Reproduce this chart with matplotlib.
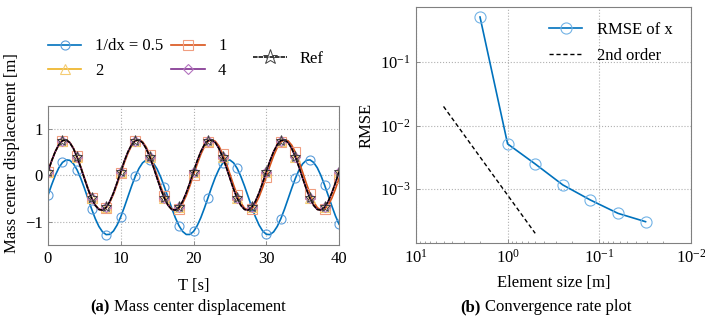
import numpy as np
import matplotlib
matplotlib.use("Agg")
import matplotlib.pyplot as plt

plt.rcParams["font.family"] = ["Liberation Serif", "DejaVu Serif"]
plt.rcParams["mathtext.fontset"] = "stix"
plt.rcParams["font.size"] = 11

# ---- data: mass center displacement (sampled every 0.5 s) ----
t = [0.5 * i for i in range(81)]

disp_05 = [-0.430, -0.205, -0.001, 0.166, 0.281, 0.336, 0.326, 0.253, 0.121, -0.058,
           -0.270, -0.498, -0.724, -0.930, -1.099, -1.217, -1.275, -1.269, -1.198, -1.069,
           -0.892, -0.681, -0.453, -0.226, -0.019, 0.150, 0.272, 0.333, 0.330, 0.263,
           0.137, -0.038, -0.248, -0.476, -0.703, -0.911, -1.083, -1.207, -1.272, -1.272,
           -1.208, -1.084, -0.911, -0.703, -0.476, -0.248, -0.038, 0.136, 0.262, 0.330,
           0.333, 0.272, 0.151, -0.020, -0.226, -0.453, -0.680, -0.891, -1.068, -1.197,
           -1.268, -1.275, -1.217, -1.099, -0.930, -0.726, -0.500, -0.272, -0.059, 0.120,
           0.253, 0.326, 0.336, 0.281, 0.166, -0.001, -0.205, -0.429, -0.658, -0.872,
           -1.052]

disp_1 = [0.081, 0.310, 0.509, 0.661, 0.750, 0.768, 0.712, 0.588, 0.409, 0.192,
          -0.043, -0.274, -0.476, -0.632, -0.727, -0.750, -0.699, -0.580, -0.405, -0.189,
          0.045, 0.278, 0.483, 0.643, 0.743, 0.771, 0.727, 0.612, 0.440, 0.227,
          -0.008, -0.241, -0.449, -0.614, -0.719, -0.753, -0.714, -0.604, -0.436, -0.224,
          0.010, 0.243, 0.454, 0.622, 0.731, 0.770, 0.736, 0.632, 0.468, 0.260,
          0.028, -0.206, -0.419, -0.590, -0.704, -0.749, -0.721, -0.622, -0.462, -0.258,
          -0.026, 0.209, 0.424, 0.600, 0.718, 0.769, 0.746, 0.651, 0.496, 0.293,
          0.064, -0.172, -0.389, -0.568, -0.691, -0.748, -0.730, -0.641, -0.490, -0.291,
          -0.061]

disp_ref = [0.081, 0.312, 0.512, 0.664, 0.752, 0.767, 0.708, 0.580, 0.397, 0.176,
            -0.061, -0.292, -0.492, -0.644, -0.732, -0.747, -0.688, -0.560, -0.377, -0.156,
            0.081, 0.312, 0.512, 0.664, 0.752, 0.767, 0.708, 0.580, 0.397, 0.176,
            -0.061, -0.292, -0.492, -0.644, -0.732, -0.747, -0.688, -0.560, -0.377, -0.156,
            0.081, 0.312, 0.512, 0.664, 0.752, 0.767, 0.708, 0.580, 0.397, 0.176,
            -0.061, -0.292, -0.492, -0.644, -0.732, -0.747, -0.688, -0.560, -0.377, -0.156,
            0.081, 0.312, 0.512, 0.664, 0.752, 0.767, 0.708, 0.580, 0.397, 0.176,
            -0.061, -0.292, -0.492, -0.644, -0.732, -0.747, -0.688, -0.560, -0.377, -0.156,
            0.081]

# dx = 2 and dx = 4 lie on top of the reference at this scale
disp_2 = disp_ref
disp_4 = disp_ref

# ---- data: convergence ----
elem_size = [2, 1, 0.5, 0.25, 0.125, 0.0625, 0.03125]
rmse_x = [0.514, 0.00514, 0.00248, 0.00116, 0.00067, 0.000413, 0.000305]
order2_x = [5, 0.5]
order2_y = [2e-2, 2e-4]

c_blue = "#0072BD"
c_orange = "#D95319"
c_yellow = "#EDB120"
c_purple = "#7E2F8E"

fig = plt.figure(figsize=(7.05, 3.17), dpi=100)

# ---------------- (a) ----------------
ax1 = fig.add_axes([0.068, 0.227, 0.413, 0.439])
mk = dict(markevery=4, markersize=6.5, fillstyle="none", markeredgewidth=0.8)
l05, = ax1.plot(t, disp_05, color=c_blue, lw=1.2, marker="o",
                markeredgecolor=(0.36, 0.62, 0.86), **mk)
l1, = ax1.plot(t, disp_1, color=c_orange, lw=1.2, marker="s",
               markeredgecolor=(0.94, 0.62, 0.50), **mk)
l2, = ax1.plot(t, disp_2, color=c_yellow, lw=1.2, marker="^",
               markeredgecolor=(0.96, 0.80, 0.45), **mk)
l4, = ax1.plot(t, disp_4, color=c_purple, lw=1.2, marker="D",
               markeredgecolor=(0.70, 0.45, 0.75), **dict(mk, markersize=5.5))
lref, = ax1.plot(t, disp_ref, color="black", lw=1.1, ls="--", dashes=(3, 0.6),
                 marker="*", markersize=8, markeredgecolor=(0.25, 0.25, 0.25),
                 markevery=4, fillstyle="none", markeredgewidth=0.7)

ax1.set_xlim(0, 40)
ax1.set_ylim(-1.5, 1.5)
ax1.set_xticks([0, 10, 20, 30, 40])
ax1.set_yticks([-1, 0, 1])
ax1.set_yticklabels(["\u22121", "0", "1"])
ax1.set_xlabel("T [s]", fontsize=12, labelpad=8)
ax1.set_ylabel("Mass center displacement [m]", fontsize=12)
ax1.yaxis.set_label_coords(-0.095, 0.66)
ax1.grid(True, ls=":", color="#b0b0b0", lw=0.8)

fig.legend([l05, l2, l1, l4], ["1/dx = 0.5", "2", "1", "4"], ncol=2,
           frameon=False, loc="center left", bbox_to_anchor=(0.047, 0.815),
           handlelength=2.0, columnspacing=0.5, handletextpad=0.8,
           labelspacing=0.5, fontsize=12)
fig.legend([lref], ["Ref"], frameon=False, loc="center left",
           bbox_to_anchor=(0.338, 0.815), handlelength=2.0, handletextpad=0.8,
           markerscale=1.4, fontsize=12)

# ---------------- (b) ----------------
ax2 = fig.add_axes([0.590, 0.233, 0.390, 0.745])
ax2.plot(elem_size, rmse_x, color=c_blue, lw=1.2, marker="o", markersize=8,
         fillstyle="none", markeredgecolor=(0.45, 0.70, 0.90), markeredgewidth=0.8,
         label="RMSE of x")
ax2.plot(order2_x, order2_y, color="black", lw=1.0, ls="--", dashes=(3, 2),
         label="2nd order")
ax2.set_xscale("log")
ax2.set_yscale("log")
ax2.set_xlim(10, 0.01)
ax2.set_ylim(1.4e-4, 0.74)
ax2.set_xticks([10, 1, 0.1, 0.01])
ax2.set_yticks([1e-3, 1e-2, 1e-1])
ax2.set_xlabel("Element size [m]", fontsize=12, labelpad=6)
ax2.set_ylabel("RMSE", fontsize=12)
ax2.grid(True, which="major", ls=":", color="#b0b0b0", lw=0.8)
ax2.legend(frameon=False, loc="upper right", fontsize=12, handlelength=2.0,
           handletextpad=0.9, labelspacing=0.6, bbox_to_anchor=(0.99, 1.0))
ax2.tick_params(axis="y", which="minor", left=False, right=False)

for ax in (ax1, ax2):
    for s in ax.spines.values():
        s.set_color("#808080")
        s.set_linewidth(0.8)
    ax.tick_params(direction="in", length=3, width=0.6, color="#808080",
                   labelsize=12, pad=4)
    ax.tick_params(which="minor", direction="in", length=1.5, width=0.5,
                   color="#808080")

# captions
fig.text(0.155, 0.018, "(a)", fontsize=12, fontweight="bold", ha="right", va="baseline")
fig.text(0.161, 0.018, "Mass center displacement", fontsize=12, ha="left", va="baseline")
fig.text(0.682, 0.018, "(b)", fontsize=12, fontweight="bold", ha="right", va="baseline")
fig.text(0.688, 0.018, "Convergence rate plot", fontsize=12, ha="left", va="baseline")

fig.savefig("out.png", dpi=100)
